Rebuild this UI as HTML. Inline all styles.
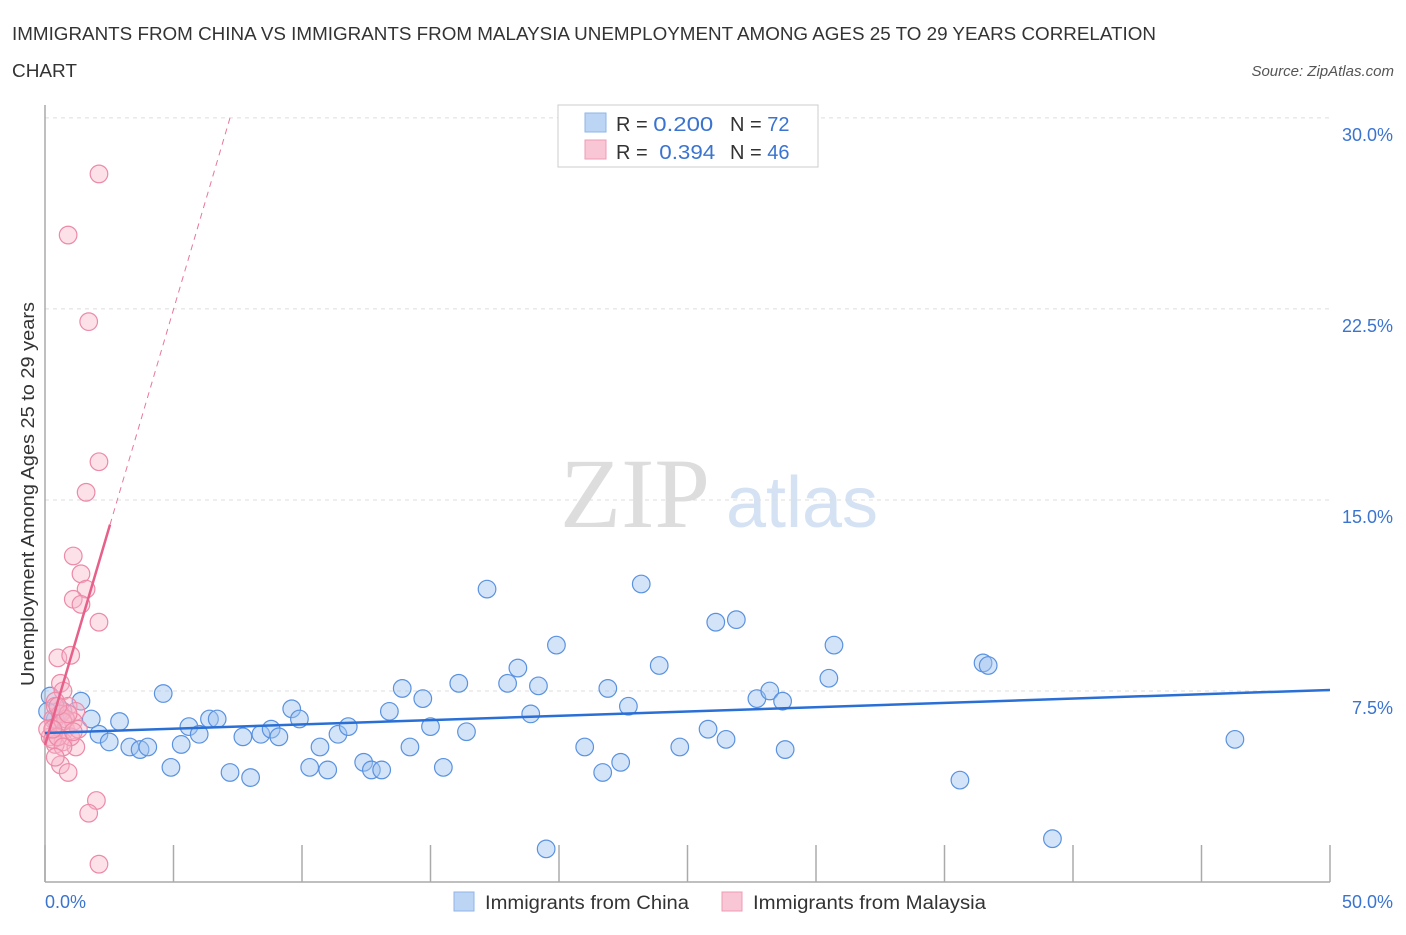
<!DOCTYPE html>
<html><head><meta charset="utf-8"><style>
body{margin:0;background:#fff;font-family:"Liberation Sans",sans-serif;}
</style></head><body>
<svg id="chart" width="1406" height="930" xmlns="http://www.w3.org/2000/svg" font-family="Liberation Sans, sans-serif">
<text x="12" y="40" font-size="18" fill="#333" textLength="1144" lengthAdjust="spacingAndGlyphs">IMMIGRANTS FROM CHINA VS IMMIGRANTS FROM MALAYSIA UNEMPLOYMENT AMONG AGES 25 TO 29 YEARS CORRELATION</text>
<text x="12" y="77" font-size="18" fill="#333" textLength="65" lengthAdjust="spacingAndGlyphs">CHART</text>
<text x="1394" y="76" font-size="15" fill="#555" font-style="italic" text-anchor="end">Source: ZipAtlas.com</text>
<g>
<text x="635" y="527" font-size="100" fill="#ddd" font-family="Liberation Serif, serif" text-anchor="middle">ZIP</text>
<text x="802" y="527" font-size="72" fill="#d4e2f4" text-anchor="middle">atlas</text>
</g>
<g id="grid"></g><g id="axes"></g><g id="pts"></g><g id="lines"></g>
<text transform="translate(34,494) rotate(-90)" font-size="18" fill="#333" text-anchor="middle" textLength="384" lengthAdjust="spacingAndGlyphs">Unemployment Among Ages 25 to 29 years</text>
<g>
<rect x="558" y="105" width="260" height="62" fill="#fff" stroke="#ccc"/>
<rect x="585" y="113" width="21" height="19" fill="#bcd5f5" stroke="#8fb4e8"/>
<rect x="585" y="140" width="21" height="19" fill="#f9c6d5" stroke="#ee9bb4"/>
<text x="616" y="131" font-size="20" fill="#333">R = <tspan fill="#3a74d0" textLength="60" lengthAdjust="spacingAndGlyphs">0.200</tspan></text>
<text x="730" y="131" font-size="20" fill="#333">N = <tspan fill="#3a74d0">72</tspan></text>
<text x="616" y="159" font-size="20" fill="#333">R = <tspan fill="#3a74d0" dx="6" textLength="56" lengthAdjust="spacingAndGlyphs">0.394</tspan></text>
<text x="730" y="159" font-size="20" fill="#333">N = <tspan fill="#3a74d0">46</tspan></text>
</g>
<g>
<rect x="454" y="892" width="20" height="19" fill="#bcd5f5" stroke="#8fb4e8"/>
<text x="485" y="909" font-size="19" fill="#333" textLength="204" lengthAdjust="spacingAndGlyphs">Immigrants from China</text>
<rect x="722" y="892" width="20" height="19" fill="#f9c6d5" stroke="#ee9bb4"/>
<text x="753" y="909" font-size="19" fill="#333" textLength="233" lengthAdjust="spacingAndGlyphs">Immigrants from Malaysia</text>
</g>
</svg>
<script>
const yTicks=[7.5,15,22.5,30];
const yTickLabels=["7.5%","15.0%","22.5%","30.0%"];
const xTickValues=[0,5,10,15,20,25,30,35,40,45,50];
const xTickLabels=["0.0%","50.0%"];
const chinaX=[0.2,0.4,0.1,0.7,1.4,1.8,2.1,2.5,2.9,3.3,3.7,4.0,4.6,4.9,5.3,5.6,6.0,6.4,6.7,7.2,7.7,8.0,8.4,8.8,9.1,9.6,9.9,10.3,10.7,11.0,11.4,11.8,12.4,12.7,13.1,13.4,13.9,14.2,14.7,15.0,15.5,16.1,16.4,17.2,18.0,18.4,18.9,19.2,19.5,19.9,21.0,21.7,21.9,22.4,22.7,23.2,23.9,24.7,25.8,26.1,26.5,26.9,27.7,28.2,28.7,28.8,30.5,30.7,35.6,36.5,36.7,39.2,46.3];
const chinaY=[7.3,6.4,6.7,6.7,7.1,6.4,5.8,5.5,6.3,5.3,5.2,5.3,7.4,4.5,5.4,6.1,5.8,6.4,6.4,4.3,5.7,4.1,5.8,6.0,5.7,6.8,6.4,4.5,5.3,4.4,5.8,6.1,4.7,4.4,4.4,6.7,7.6,5.3,7.2,6.1,4.5,7.8,5.9,11.5,7.8,8.4,6.6,7.7,1.3,9.3,5.3,4.3,7.6,4.7,6.9,11.7,8.5,5.3,6.0,10.2,5.6,10.3,7.2,7.5,7.1,5.2,8.0,9.3,4.0,8.6,8.5,1.7,5.6];
const malayX=[2.1,0.9,1.7,2.1,1.6,1.1,1.4,1.6,1.1,1.4,2.1,0.5,1.0,0.6,0.7,0.4,0.9,1.2,0.3,0.5,0.8,1.1,0.2,0.7,1.2,0.4,1.0,0.4,0.6,0.8,0.1,0.3,1.3,0.6,0.9,2.0,1.7,2.1,0.7,0.5,0.7,0.3,0.9,1.1,0.5,0.4];
const malayY=[27.8,25.4,22.0,16.5,15.3,12.8,12.1,11.5,11.1,10.9,10.2,8.8,8.9,7.8,7.5,7.1,6.9,6.7,6.4,6.1,6.0,6.3,5.7,5.5,5.3,5.4,5.7,6.9,6.6,6.4,6.0,5.6,6.0,4.6,4.3,3.2,2.7,0.7,6.3,5.7,5.3,6.0,6.6,5.9,6.9,4.9];
const chinaFit=[5.85,7.54];
const malayFit=[5.38,3.42];
const NS="http://www.w3.org/2000/svg";
const X=v=>45+v*25.7, Y=v=>882-v*25.47;
function mk(t,a,p){const e=document.createElementNS(NS,t);for(const k in a)e.setAttribute(k,a[k]);p.appendChild(e);return e;}
const grid=document.getElementById('grid'),axes=document.getElementById('axes'),pts=document.getElementById('pts'),lines=document.getElementById('lines');
yTicks.forEach((v,i)=>{
 const l=mk('line',{x1:45,x2:1330,y1:Y(v),y2:Y(v),stroke:'#ddd','stroke-dasharray':'4,4'},grid);
 
 
 const t=mk('text',{x:1393,y:Y(v)+23,'font-size':18,fill:'#3a74d0','text-anchor':'end'},axes);
 t.textContent=yTickLabels[i];
 
 
});
let a=mk('line',{x1:45,x2:45,y1:105,y2:882,stroke:'#aaa','stroke-width':1.5},axes);


a=mk('line',{x1:45,x2:1330,y1:882,y2:882,stroke:'#aaa','stroke-width':1.5},axes);


xTickValues.forEach(v=>{const t=mk('line',{x1:X(v),x2:X(v),y1:845,y2:882,stroke:'#aaa','stroke-width':1.5},axes);
 
 });
[[0,'start'],[50,'end']].forEach((p,i)=>{const t=mk('text',{x:X(p[0])+(i?63:0),y:908,'font-size':18,fill:'#3a74d0','text-anchor':p[1]},axes);t.textContent=xTickLabels[i];
 
 });
chinaX.forEach((x,i)=>{const c=mk('circle',{cx:X(x),cy:Y(chinaY[i]),r:8.8,fill:'rgba(160,195,240,0.45)',stroke:'#5a92e0','stroke-width':1.2},pts);
 
 });
malayX.forEach((x,i)=>{const c=mk('circle',{cx:X(x),cy:Y(malayY[i]),r:8.8,fill:'rgba(248,180,200,0.4)',stroke:'#ec8aa8','stroke-width':1.2},pts);
 
 });
let l=mk('line',{x1:X(0),y1:Y(chinaFit[0]),x2:X(50),y2:Y(chinaFit[1]),stroke:'#2a6fd6','stroke-width':2.5},lines);


const xEnd=(30-malayFit[0])/malayFit[1];
l=mk('line',{x1:X(2.53),y1:Y(malayFit[0]+malayFit[1]*2.53),x2:X(xEnd),y2:Y(30),stroke:'#e6789a','stroke-width':1,'stroke-dasharray':'6,5'},lines);


l=mk('line',{x1:X(0),y1:Y(malayFit[0]),x2:X(2.53),y2:Y(malayFit[0]+malayFit[1]*2.53),stroke:'#e6608a','stroke-width':2.5},lines);


</script>
</body></html>
